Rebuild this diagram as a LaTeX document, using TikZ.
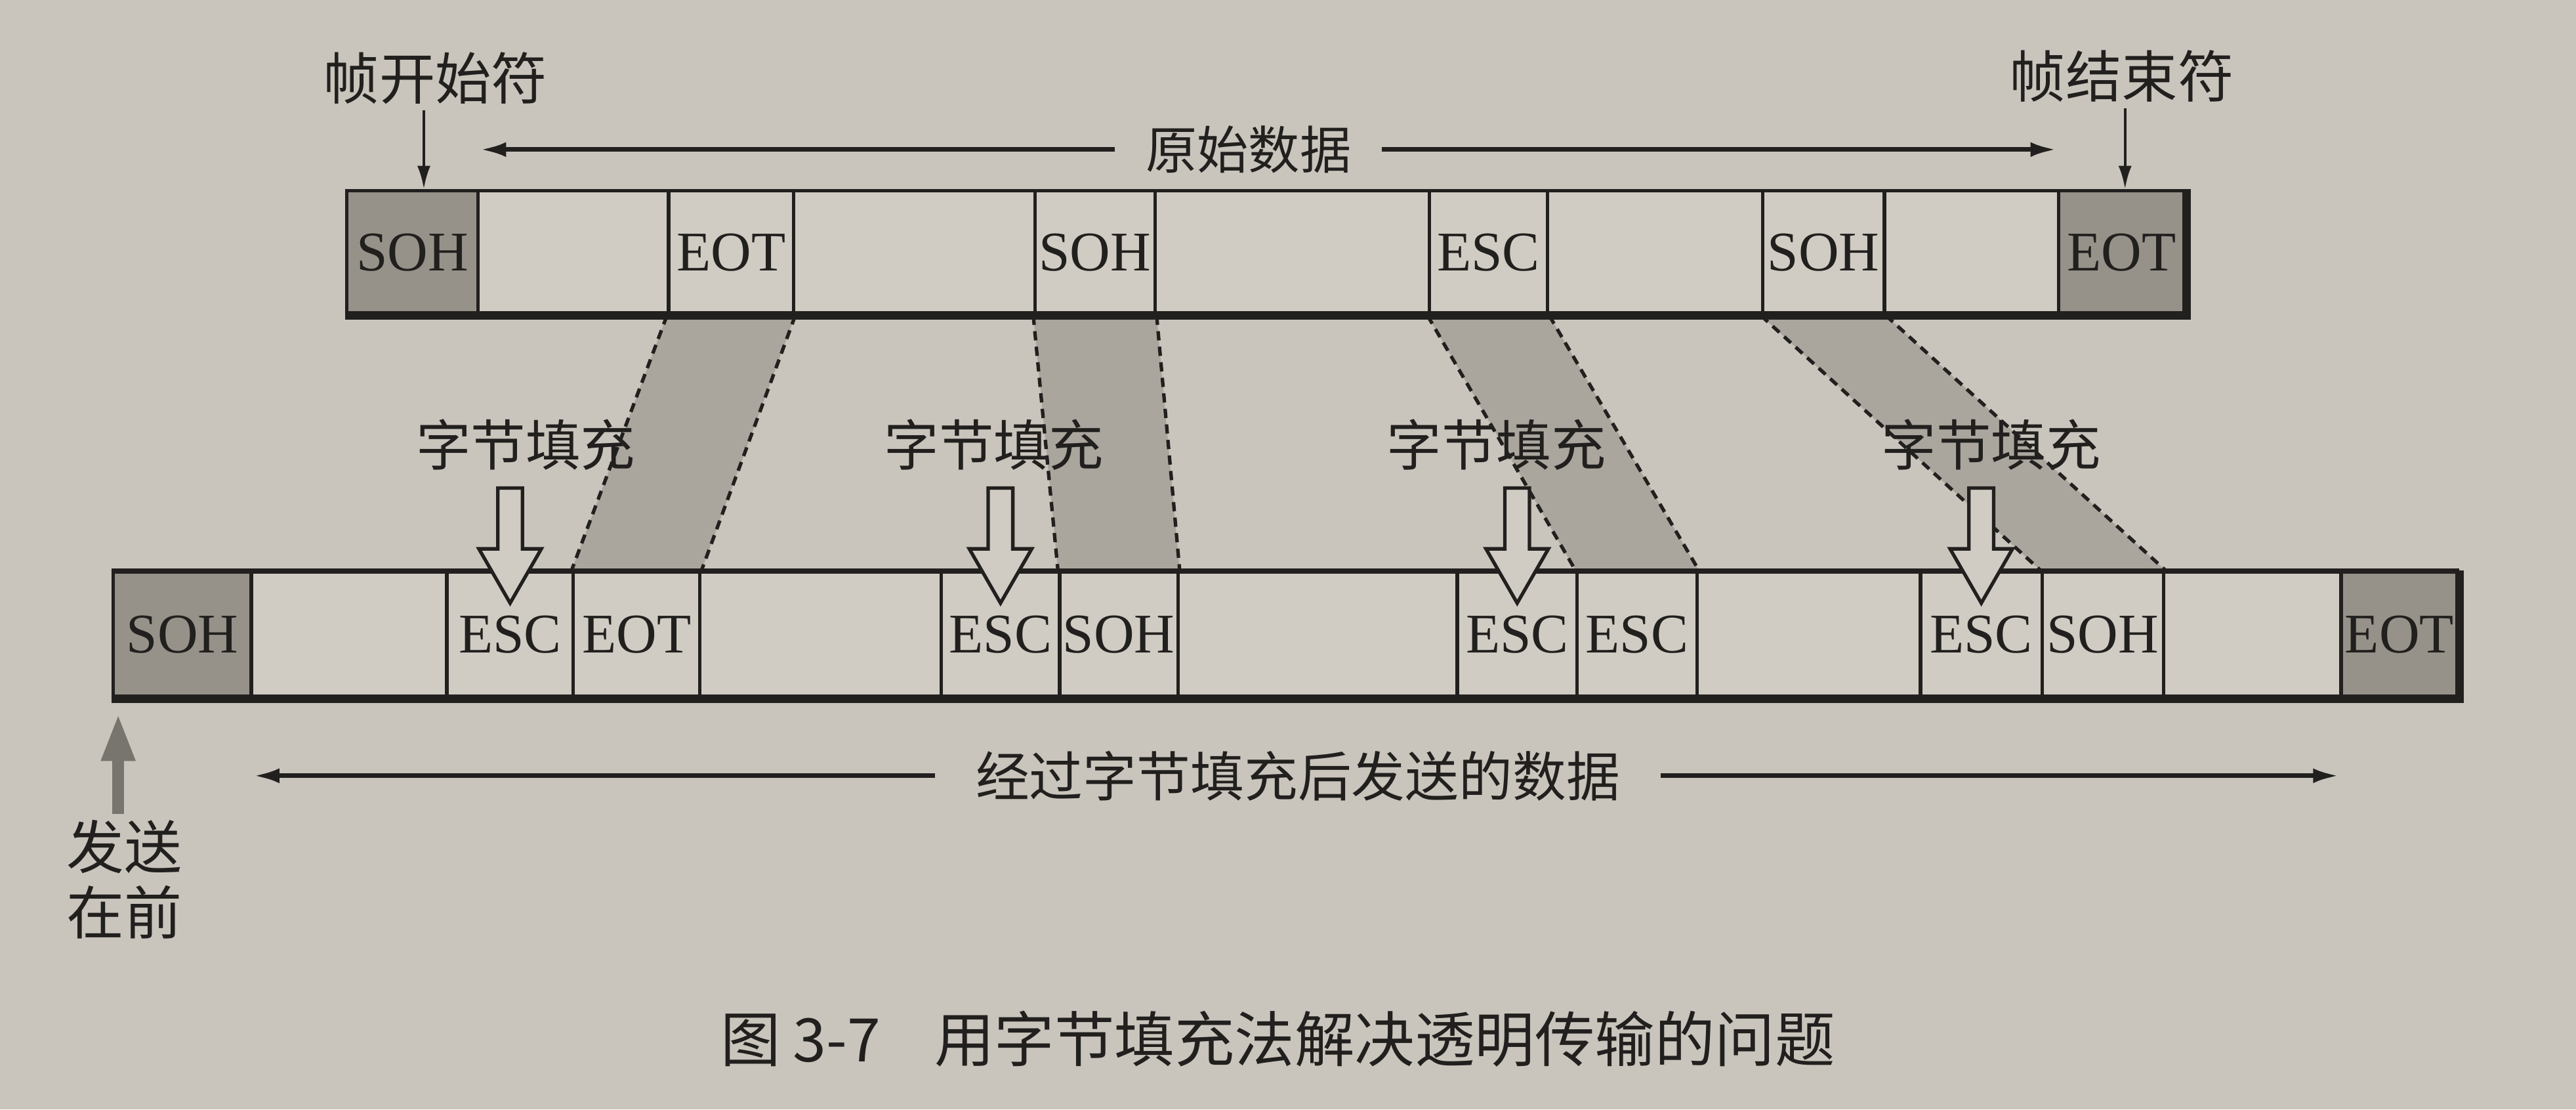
\documentclass[tikz,border=0pt]{standalone}
\usepackage{fontspec}
\setmainfont{Liberation Serif}
\newfontfamily\cjkfont{Noto Sans CJK SC}
\usepackage{tikz}
\usetikzlibrary{arrows.meta,calc,positioning}
\definecolor{paper}{RGB}{201,197,189}
\definecolor{cellbg}{RGB}{208,204,196}
\definecolor{toneA}{RGB}{150,146,138}
\definecolor{toneB}{RGB}{170,166,158}
\definecolor{ink}{RGB}{34,32,30}
\newcommand{\srccell}[5]{%
  \node[cell,fill=#5,minimum width={(#3-#2)*.1mm},minimum height=7.5mm]
    (#1) at ({(#2+#3)/2},153.5) {#4};
}
\newcommand{\txcell}[5]{%
  \node[cell,fill=#5,minimum width={(#3-#2)*.1mm},minimum height=7.6mm]
    (#1) at ({(#2+#3)/2},386) {#4};
}
\newcommand{\stuffband}[2]{%
  \fill[band] (#1.south west) -- (#1.south east) -- (#2.north east)
    -- (#2.north west) -- cycle;
  \draw[bandedge] (#1.south west) -- (#2.north west)
    (#1.south east) -- (#2.north east);
}
\newcommand{\stuffarrow}[1]{%
  \draw[hollow] ([yshift=-2mm]#1.north) -- ++(-19,-33) -- ++(11.5,0)
    -- ++(0,-37) -- ++(15,0) -- ++(0,37) -- ++(11.5,0) -- cycle;
}

\begin{document}
\begin{tikzpicture}[x=.1mm,y=-.1mm,
    cell/.style={draw=ink,line width=.6pt,inner sep=0pt,text=ink,
      font=\fontsize{9.7}{10}\selectfont},
    barline/.style={draw=ink,line width=.6pt},
    barshadow/.style={draw=ink,line width=1.5pt},
    band/.style={fill=toneB},
    bandedge/.style={draw=ink,line width=.6pt,dash pattern=on 1.6pt off 1.1pt},
    hollow/.style={draw=ink,line width=.6pt,fill=cellbg,line join=miter},
    tag/.style={font=\cjkfont\fontsize{9.5}{11}\selectfont,inner sep=0pt,text=ink},
    pointer/.style={draw=ink,line width=.5pt,-{Latex[length=1.4mm,width=.8mm]}},
    spanline/.style={draw=ink,line width=.8pt,-{Latex[length=1.6mm,width=.9mm]}},
    sendarrow/.style={draw=toneA!80!black,line width=2pt,
      -{Triangle[length=2.9mm,width=1.9mm]}}]
  \useasboundingbox (0,0) rectangle (1568,675);
  \fill[paper] (0,0) rectangle (1568,675);
  % original frame
  \srccell{s1}{211}{291}{SOH}{toneA}
  \srccell{s2}{291}{407}{}{cellbg}
  \srccell{s3}{407}{483}{EOT}{cellbg}
  \srccell{s4}{483}{630}{}{cellbg}
  \srccell{s5}{630}{703}{SOH}{cellbg}
  \srccell{s6}{703}{870}{}{cellbg}
  \srccell{s7}{870}{942}{ESC}{cellbg}
  \srccell{s8}{942}{1073}{}{cellbg}
  \srccell{s9}{1073}{1147}{SOH}{cellbg}
  \srccell{s10}{1147}{1253}{}{cellbg}
  \srccell{s11}{1253}{1330}{EOT}{toneA}
  % frame after byte stuffing
  \txcell{t1}{69}{153}{SOH}{toneA}
  \txcell{t2}{153}{272}{}{cellbg}
  \txcell{t3}{272}{349}{ESC}{cellbg}
  \txcell{t4}{349}{426}{EOT}{cellbg}
  \txcell{t5}{426}{573}{}{cellbg}
  \txcell{t6}{573}{645}{ESC}{cellbg}
  \txcell{t7}{645}{717}{SOH}{cellbg}
  \txcell{t8}{717}{887}{}{cellbg}
  \txcell{t9}{887}{960}{ESC}{cellbg}
  \txcell{t10}{960}{1033}{ESC}{cellbg}
  \txcell{t11}{1033}{1169}{}{cellbg}
  \txcell{t12}{1169}{1243}{ESC}{cellbg}
  \txcell{t13}{1243}{1317}{SOH}{cellbg}
  \txcell{t14}{1317}{1425}{}{cellbg}
  \txcell{t15}{1425}{1496}{EOT}{toneA}
  % shaded bands
  \stuffband{s3}{t4}
  \stuffband{s5}{t7}
  \stuffband{s7}{t10}
  \stuffband{s9}{t13}
  \draw[barshadow] (s1.south west) -- (s11.south east) -- (s11.north east);
  \draw[barline] (t1.north west) -- (t15.north east);
  \draw[barshadow] (t1.south west) -- (t15.south east) -- (t15.north east);
  % inserted ESC
  \stuffarrow{t3}
  \stuffarrow{t6}
  \stuffarrow{t9}
  \stuffarrow{t12}
  \node[tag,above=6mm of t3,xshift=.95mm] (fill1) {字节填充};
  \node[tag,above=6mm of t6,xshift=-.4mm] (fill2) {字节填充};
  \node[tag,above=6mm of t9,xshift=-1.25mm] (fill3) {字节填充};
  \node[tag,above=6mm of t12,xshift=.6mm] (fill4) {字节填充};
  % labels
  \node[tag,font=\cjkfont\fontsize{9.7}{11}\selectfont,
    above=5.1mm of s1,xshift=1.4mm] (sohtag) {帧开始符};
  \draw[pointer] ($(sohtag.south)+(-7,3)$) -- ($(sohtag.south |- s1.north)+(-7,0)$);
  \node[tag,font=\cjkfont\fontsize{9.7}{11}\selectfont,
    above=5.2mm of s11] (eottag) {帧结束符};
  \draw[pointer] ($(eottag.south)+(2,3)$) -- ($(eottag.south |- s11.north)+(2,0)$);
  \node[tag,font=\cjkfont\fontsize{8.9}{11}\selectfont,inner xsep=1.8mm]
    (rawdata) at (760,91) {原始数据};
  \draw[spanline] (rawdata.west) -- (rawdata.west -| s1.east);
  \draw[spanline] (rawdata.east) -- (rawdata.east -| s11.west);
  \node[tag,font=\cjkfont\fontsize{9.3}{11}\selectfont,inner xsep=2.4mm]
    (sentdata) at (790,472) {经过字节填充后发送的数据};
  \draw[spanline] (sentdata.west) -- (sentdata.west -| t1.east);
  \draw[spanline] (sentdata.east) -- (sentdata.east -| t15.west);
  \node[tag,font=\cjkfont\fontsize{10}{11.4}\selectfont,align=center]
    (sendfirst) at (75.5,535) {发送\\在前};
  \draw[sendarrow] ($(t1.south west |- sendfirst.north)+(4,-3)$)
    -- ($(t1.south west)+(4,9)$);
  \node[tag,font=\cjkfont\fontsize{10.4}{11}\selectfont] (caption) at (778,632)
    {图\hspace{.2em}3-7\hspace{.9em}用字节填充法解决透明传输的问题};
\end{tikzpicture}
\end{document}
